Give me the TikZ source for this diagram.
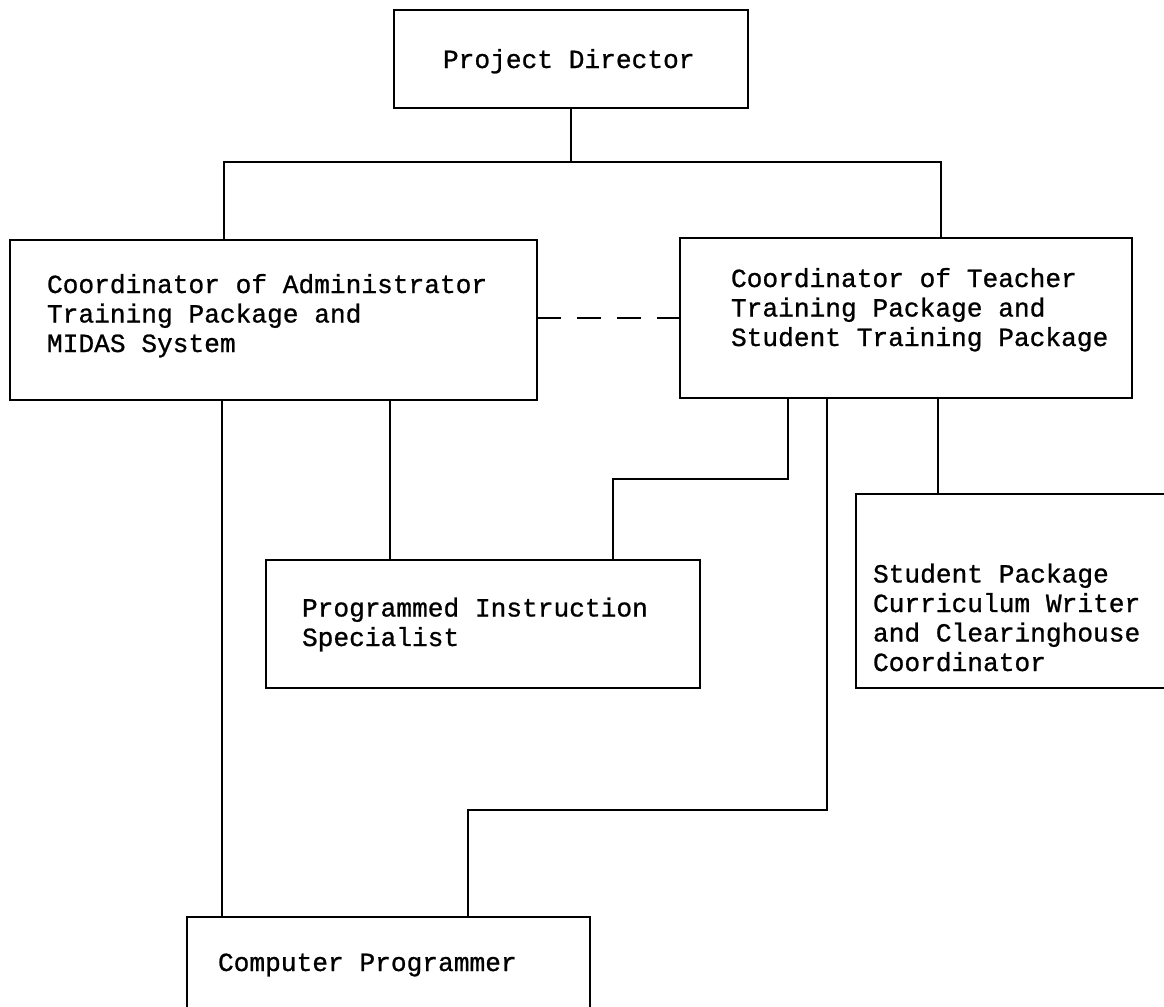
\documentclass[tikz,border=0pt]{standalone}
\usepackage{fontspec}
\setmonofont[FakeBold=0.9]{Liberation Mono}
\begin{document}
\begin{tikzpicture}[x=0.5pt,y=-0.5pt,
  box/.style={draw, line width=1.1pt, inner sep=0pt, outer sep=0pt, rectangle},
  label text/.style={anchor=base west, inner sep=0pt, outer sep=0pt, align=left,
    font={\ttfamily\fontsize{13.1}{14.75}\selectfont}},
  link/.style={line width=1.1pt},
  peer/.style={line width=1.1pt, dash pattern=on 12pt off 8pt}]
\useasboundingbox (0,0) rectangle (1164,1007);

% organisational units
\node[box, minimum width=177pt, minimum height=49pt] (pd) at (571,59) {};
\node[box, minimum width=263.5pt, minimum height=80pt] (admin) at (273.5,320) {};
\node[box, minimum width=226pt, minimum height=80pt] (teacher) at (906,318) {};
\node[box, minimum width=217pt, minimum height=64pt] (pi) at (483,624) {};
\node[box, minimum width=162pt, minimum height=97pt] (sp) at (1018,591) {};
\node[box, minimum width=201.5pt, minimum height=49pt] (cp) at (388.5,966) {};

% titles (anchored on the baseline of their last line)
\node[label text] (pdtext) at (443,68) {Project Director};
\node[label text] (admintext) at (47,352) {Coordinator of Administrator\\Training Package and\\MIDAS System};
\node[label text] (teachertext) at (731,346) {Coordinator of Teacher\\Training Package and\\Student Training Package};
\node[label text] (pitext) at (302,646) {Programmed Instruction\\Specialist};
\node[label text] (sptext) at (873,671) {Student Package\\Curriculum Writer\\and Clearinghouse\\Coordinator};
\node[label text] (cptext) at (218,971) {Computer Programmer};

% reporting lines
\coordinate (busL) at (224,162);
\coordinate (busR) at (941,162);
\draw[link] (pd.south) -- (pd.south |- busL);
\draw[link] (busL |- admin.north) -- (busL) -- (busR) -- (busR |- teacher.north);

\coordinate (peerY) at (0,318);
\draw[peer] (admin.east |- peerY) -- (teacher.west |- peerY);

\coordinate (a1) at (222,0);
\coordinate (a2) at (390,0);
\draw[link] (a1 |- admin.south) -- (a1 |- cp.north);
\draw[link] (a2 |- admin.south) -- (a2 |- pi.north);

\coordinate (t1) at (788,479);
\coordinate (t1b) at (613,479);
\draw[link] (t1 |- teacher.south) -- (t1) -- (t1b) -- (t1b |- pi.north);

\coordinate (t2) at (827,810);
\coordinate (t2b) at (468,810);
\draw[link] (t2 |- teacher.south) -- (t2) -- (t2b) -- (t2b |- cp.north);

\coordinate (t3) at (938,0);
\draw[link] (t3 |- teacher.south) -- (t3 |- sp.north);
\end{tikzpicture}
\end{document}
